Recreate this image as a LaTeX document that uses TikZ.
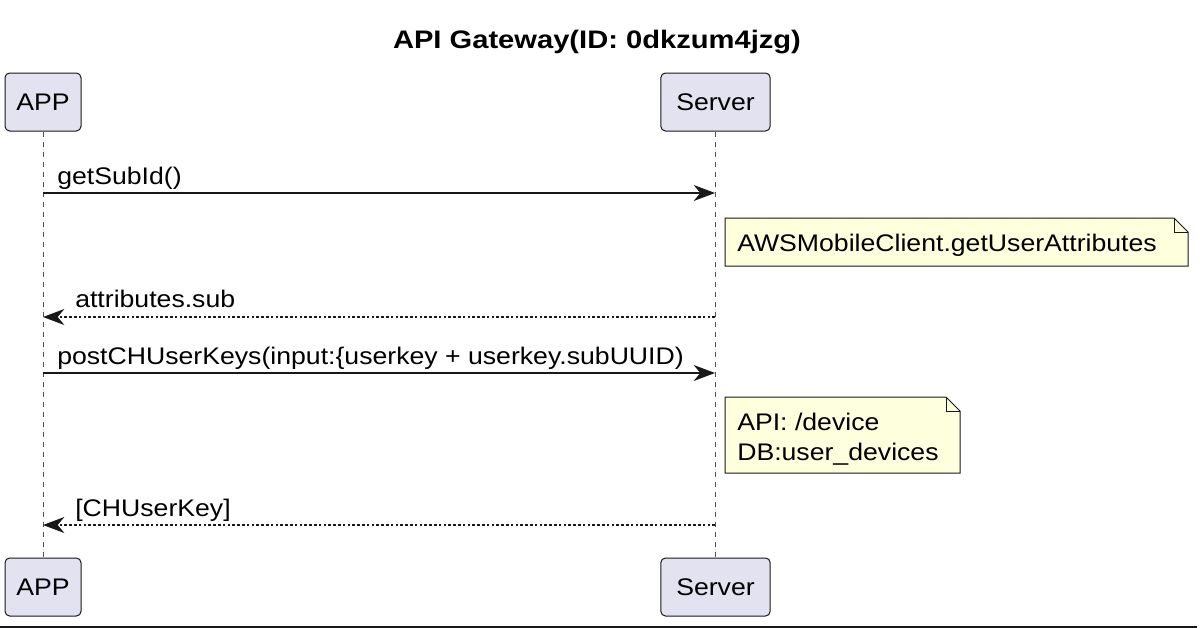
\documentclass[tikz,border=0pt]{standalone}
\usepackage{fontspec}
\setmainfont{Liberation Sans}[FakeStretch=1.11]
\newfontfamily\titlefont{Liberation Sans}[FakeStretch=1.15]
\usetikzlibrary{arrows.meta}
\definecolor{partfill}{HTML}{E2E2F0}
\definecolor{linec}{HTML}{181818}
\definecolor{notefill}{HTML}{FEFFDD}
\tikzset{
  part/.style={draw=linec, fill=partfill, line width=0.75pt, rounded corners=3.5pt,
    minimum height=43.5pt, inner xsep=6pt, font=\fontsize{18}{22}\selectfont, text=black},
  lifeline/.style={draw=linec!75, line width=0.75pt, dash pattern=on 3.75pt off 3.75pt},
  msg/.style={draw=linec, line width=1.1pt, -{Stealth[length=16pt, width=12pt, inset=5pt]}},
  ret/.style={msg, dash pattern=on 2pt off 1.6pt},
  lbl/.style={anchor=base west, inner sep=0pt, font=\fontsize{18}{22}\selectfont},
  notetext/.style={anchor=base west, inner sep=0pt, font=\fontsize{18}{22}\selectfont},
  notebox/.style={draw=linec, fill=notefill, line width=0.75pt, line join=miter}
}
\begin{document}
\begin{tikzpicture}[x=0.75pt, y=-0.75pt]
\useasboundingbox (0,0) rectangle (1200,628);
\fill[white] (0,0) rectangle (1200,628);
% title
\node[font=\titlefont\bfseries\fontsize{19}{23}\selectfont, anchor=base] (title) at (597,48) {API Gateway(ID: 0dkzum4jzg)};
% participants
\node[part, minimum width=57pt] (appT) at (43,102) {APP};
\node[part, minimum width=82pt] (srvT) at (715.5,102) {Server};
\node[part, minimum width=57pt] (appB) at (43,587) {APP};
\node[part, minimum width=82pt] (srvB) at (715.5,587) {Server};
% lifelines
\draw[lifeline] (appT.south) -- (appB.north);
\draw[lifeline] (srvT.south) -- (srvB.north);
% coordinates on lifelines
\coordinate (a1) at (43,193); \coordinate (s1) at (715,193);
\coordinate (a2) at (43,317); \coordinate (s2) at (715,317);
\coordinate (a3) at (43,373); \coordinate (s3) at (715,373);
\coordinate (a4) at (43,525); \coordinate (s4) at (715,525);
% messages
\draw[msg] (a1) -- (s1);
\node[lbl] (l1) at (57,184) {getSubId()};
\draw[ret] (s2) -- (a2);
\node[lbl] (l2) at (75,307) {attributes.sub};
\draw[msg] (a3) -- (s3);
\node[lbl] (l3) at (57,364) {postCHUserKeys(input:\{userkey + userkey.subUUID)};
\draw[ret] (s4) -- (a4);
\node[lbl] (l4) at (75,516) {[CHUserKey]};
% note 1
\draw[notebox] (725,218) -- (1174,218) -- (1188,232) -- (1188,266) -- (725,266) -- cycle;
\draw[draw=linec, line width=0.75pt] (1174,218) -- (1174,232) -- (1188,232);
\node[notetext] (n1) at (737,251) {AWSMobileClient.getUserAttributes};
% note 2
\draw[notebox] (725,397) -- (946,397) -- (960,411) -- (960,473) -- (725,473) -- cycle;
\draw[draw=linec, line width=0.75pt] (946,397) -- (946,411) -- (960,411);
\node[notetext] (n2a) at (737,430) {API: /device};
\node[notetext] (n2b) at (737,460) {DB:user\_devices};
% bottom border
\draw[linec, line width=1.5pt] (0,627) -- (1197,627);
\end{tikzpicture}
\end{document}
